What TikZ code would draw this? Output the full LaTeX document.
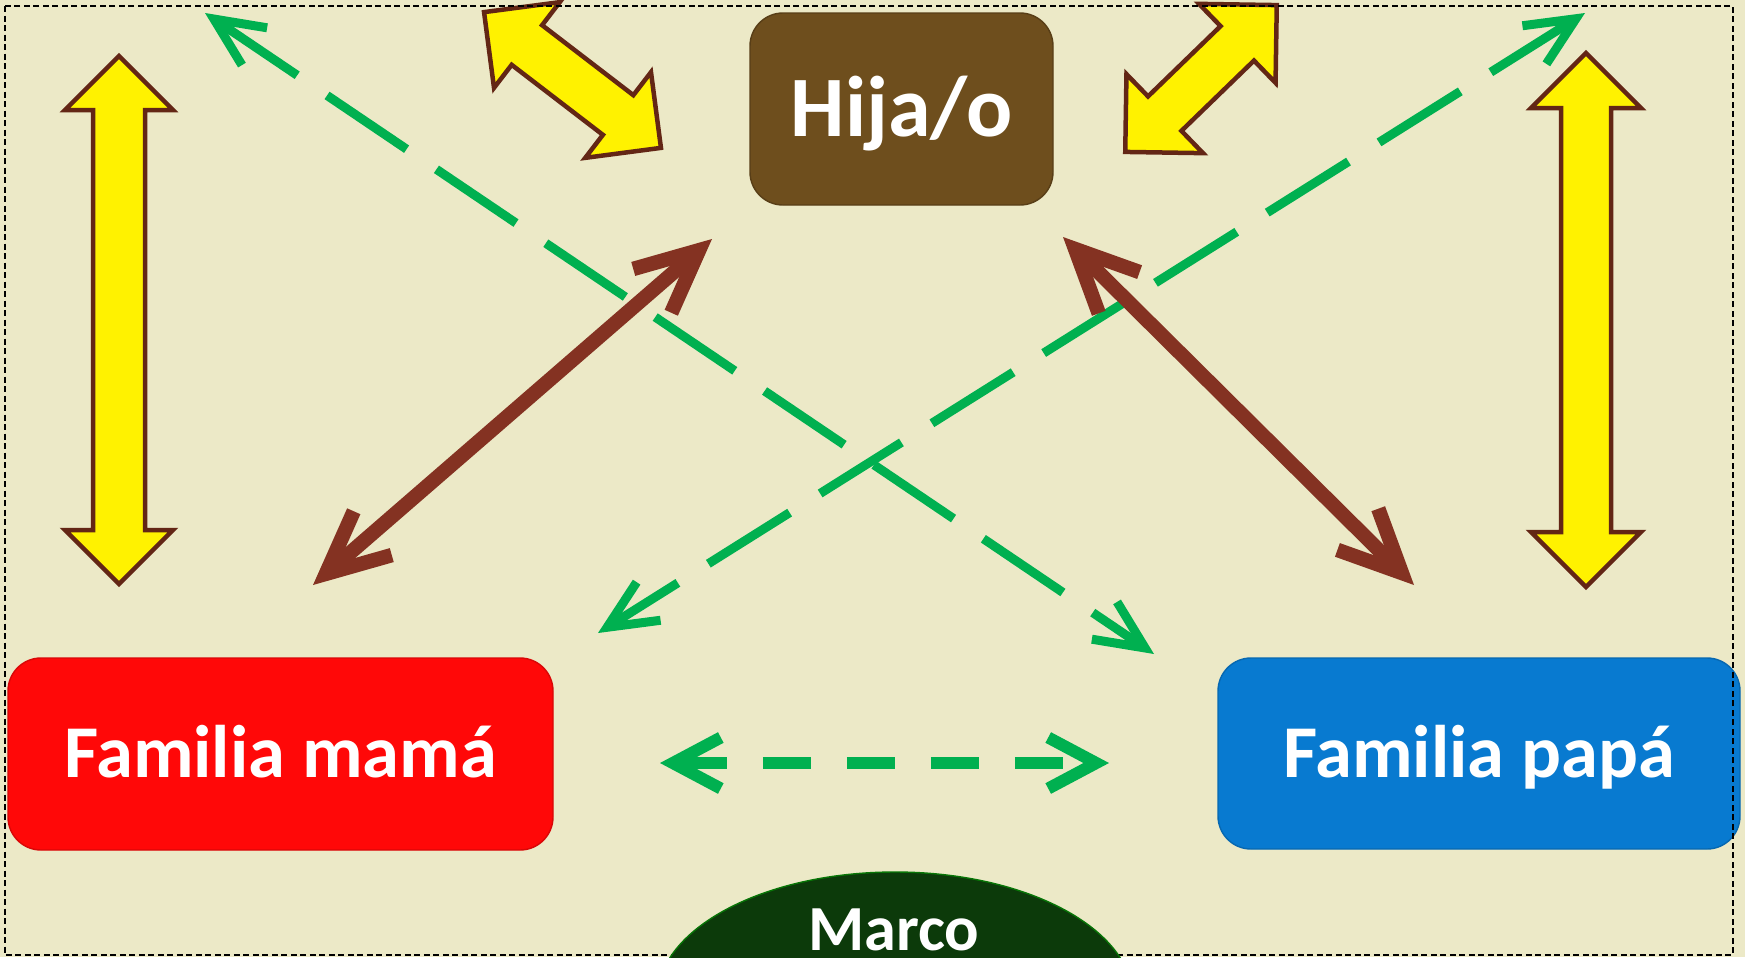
\documentclass[tikz,border=0pt]{standalone}
\usepackage{fontspec}
\setmainfont{Carlito}                 % Police proche de Calibri
\usepackage{tikz}
\usetikzlibrary{arrows.meta,          % Pointes de flèches ouvertes
           shapes.geometric}          % Pour l'ellipse
\definecolor{fondo}{RGB}{236,233,199}
\definecolor{hijo}{RGB}{110,78,29}
\definecolor{mama}{RGB}{255,8,8}
\definecolor{papa}{RGB}{8,122,208}
\definecolor{marco}{RGB}{12,58,10}
\definecolor{contorno}{RGB}{99,38,21}
\definecolor{cafe}{RGB}{132,50,34}
\definecolor{verde}{RGB}{0,176,80}
\tikzset{
  caja/.style={rectangle,rounded corners=3.3mm,inner sep=0pt,text=white,
    font=\bfseries\fontsize{21.2}{25}\selectfont,text height=4.7mm,text depth=0pt},
  amarillo/.style={fill=yellow,draw=contorno,line width=0.45mm},
  flecha cafe/.style={cafe,line width=1.45mm,>={Straight Barb[length=6.2mm,width=5.8mm]},<->},
  flecha verde/.style={verde,line width=0.9mm,dash pattern=on 9.6mm off 3.6mm,
    >={Straight Barb[length=4.9mm,width=4.5mm]},<->},
  borde/.style={black,line width=0.15mm,dash pattern=on 0.6mm off 0.35mm}
}
\begin{document}
\begin{tikzpicture}[x=0.1mm,y=-0.1mm]
\useasboundingbox (0,0) rectangle (1745,957);
\clip (0,0) rectangle (1745,957);
\fill[fondo] (0,0) rectangle (1745,957);
\node[caja,fill=hijo,draw=hijo!80!black,minimum width=30.3mm,minimum height=19.2mm,
  font=\bfseries\fontsize{24.5}{29}\selectfont,text height=5.4mm] (hijo) at (901.5,109) {Hija/o};
\node[caja,fill=mama,draw=mama!85!black,minimum width=54.5mm,minimum height=19.2mm] (mama) at (280.5,754) {Familia mamá};
\node[caja,fill=papa,draw=papa!85!black,minimum width=52.2mm,minimum height=19.1mm] (papa) at (1479,753.5) {Familia papá};
\foreach \cx/\cy/\ang/\lh/\h/\s in {119/320/90/264/54/26, 1586/320/90/267/55/25,
    572.5/80/-37.5/111.5/54/25, 1201/78.5/44.1/105.5/55/24}
  \draw[amarillo,shift={(\cx,\cy)},rotate=\ang] (-\lh,0)--({-\lh+\h},\h)--({-\lh+\h},\s)--({\lh-\h},\s)--({\lh-\h},\h)--(\lh,0)
    --({\lh-\h},-\h)--({\lh-\h},-\s)--({-\lh+\h},-\s)--({-\lh+\h},-\h)--cycle;
\coordinate (v1) at (205,13);   \coordinate (v2) at (1154,654);
\coordinate (v3) at (1585,13);  \coordinate (v4) at (598,633);
\coordinate (v5) at (660,763);  \coordinate (v6) at (1109,763);
\coordinate (c1) at (712,239);  \coordinate (c2) at (313,585);
\coordinate (c3) at (1063,237); \coordinate (c4) at (1414,585);
\draw[flecha verde] (v1)--(v2);
\draw[flecha verde] (v3)--(v4);
\draw[flecha verde,line width=1.2mm,dash pattern=on 4.8mm off 3.6mm,
  >={Straight Barb[length=4.8mm,width=5.1mm]}] (v5)--(v6);
\draw[flecha cafe] (c1)--(c2);
\draw[flecha cafe] (c3)--(c4);
\draw[borde] (5,6) rectangle (1733,955);
\filldraw[fill=marco,draw=marco!70!green] (895,999) ellipse (238 and 127);
\node[anchor=base,inner sep=0pt,text=white,font=\bfseries\fontsize{18.3}{22}\selectfont] (marco) at (894,950) {Marco};
\end{tikzpicture}
\end{document}
